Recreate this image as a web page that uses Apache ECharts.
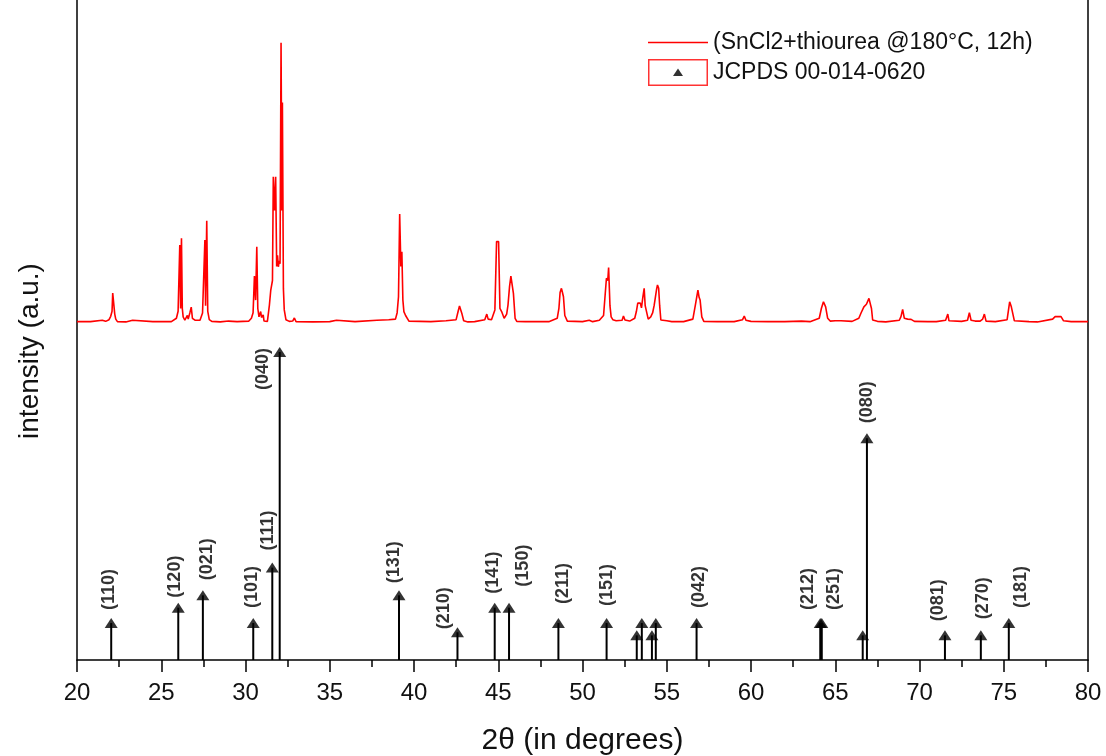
<!DOCTYPE html>
<html><head><meta charset="utf-8">
<script src="https://cdn.jsdelivr.net/npm/echarts@6/dist/echarts.min.js"></script>
<style>html,body{margin:0;padding:0;background:#fff}#c{width:1106px;height:756px}</style>
</head><body><div id="c"></div>
<script>
// ---------- data ----------
const xTickValues = [20, 25, 30, 35, 40, 45, 50, 55, 60, 65, 70, 75, 80];

// measured XRD pattern (2theta, relative intensity, 0 = baseline, 100 = strongest peak)
const xrdTheta = [20.0,20.8,20.9,21.5,21.7,21.9,22.0,22.08,22.12,22.19,22.24,22.3,22.4,22.9,23.0,23.3,23.4,24.5,25.6,25.9,26.0,26.1,26.15,26.2,26.25,26.3,26.4,26.55,26.6,26.7,26.78,26.85,27.0,27.3,27.45,27.52,27.59,27.63,27.7,27.76,27.85,28.0,28.5,29.0,29.5,30.2,30.35,30.45,30.53,30.6,30.67,30.73,30.8,30.9,30.95,31.05,31.1,31.3,31.42,31.5,31.6,31.65,31.72,31.79,31.85,31.9,31.95,32.0,32.05,32.11,32.16,32.19,32.25,32.3,32.4,32.6,32.8,32.9,33.0,34.0,35.0,35.4,35.5,36.5,37.8,38.5,38.9,39.0,39.08,39.15,39.22,39.28,39.34,39.4,39.5,39.6,39.7,41.0,41.9,42.0,42.5,42.62,42.7,42.78,42.85,42.95,43.2,43.6,44.2,44.32,44.4,44.6,44.8,44.9,45.02,45.1,45.2,45.35,45.5,45.58,45.67,45.75,45.82,45.9,46.0,46.1,46.6,47.0,48.0,48.5,48.6,48.67,48.75,48.8,48.87,48.95,49.1,50.0,50.4,50.5,50.6,51.0,51.25,51.35,51.42,51.5,51.55,51.63,51.7,51.8,52.0,52.35,52.43,52.52,52.8,53.1,53.2,53.28,53.36,53.43,53.5,53.58,53.66,53.72,53.78,53.9,54.05,54.16,54.25,54.3,54.4,54.45,54.52,54.58,54.65,55.0,55.3,56.0,56.55,56.7,56.85,56.92,56.98,57.08,57.2,58.0,58.8,58.87,59.0,59.5,59.6,59.7,60.0,61.0,62.0,63.0,63.5,64.05,64.18,64.3,64.35,64.43,64.55,64.7,65.0,65.34,66.0,66.4,66.53,66.7,66.85,66.93,67.0,67.1,67.15,67.22,67.5,68.0,68.8,68.9,69.0,69.1,69.3,69.5,69.7,70.5,71.0,71.55,71.68,71.75,72.5,72.85,72.96,73.06,73.3,73.6,73.75,73.85,73.95,74.5,75.2,75.35,75.45,75.55,75.63,76.5,77.0,77.9,78.05,78.4,78.55,79.0,80.0];
const xrdIntensity = [0.3,0.3,0.8,0.8,0.4,1.0,2.2,4,10.5,10.5,3,1.2,0.3,0.2,0.8,0.8,0.2,0.3,0.3,1.5,4,27.7,5,30.1,5,2,0.8,2.5,1.2,3.5,5.5,1.5,0.8,0.8,3.4,4,29.5,6,36.4,4,1,0.4,0.2,0.5,0.3,0.5,1.5,3.5,16.6,8,27.1,5,2,3.9,1.8,2.7,0.5,0.4,6.3,11.6,15,52.1,40,52.1,20,24,19.9,22,21,100,40,78.6,12,4.5,1,0.4,0.5,1.6,0.3,0.2,0.3,0.8,0.3,0.3,0.8,1.0,1.2,3.5,9.2,38.8,20,25.3,8,3.9,2.5,2.7,0.5,0.3,0.6,0.3,1,4,5.9,5.9,3,0.6,0.2,0.3,1.0,3.0,1.2,1,4.5,28.9,28.9,5,3.9,1.5,3,6.3,12.8,16.6,16.6,10.4,1.5,0.4,0.3,0.3,0.3,1.5,5,10.7,12.2,11,9.2,2.5,0.5,0.3,0.8,1.3,0.3,0.8,2.5,2.7,15.8,15,19.6,6,2,1,0.6,0.8,2.3,0.9,0.5,1.5,4,6.9,6.2,6.9,5.2,9,12.2,6,5.6,1.2,2,3.4,6,8.0,12,13.4,12.2,6,0.9,0.6,0.3,0.3,1.2,6.3,11.6,9,8.0,2,0.4,0.3,0.3,0.6,0.3,1,2.3,0.8,0.4,0.3,0.3,0.5,0.3,1.5,5.1,7.4,7.4,5.6,1.5,0.5,0.6,0.6,0.4,1.5,3.4,5.6,6.5,6.9,8.6,8.6,5,0.9,0.4,0.2,0.8,2.1,4.7,1.5,1.2,1.1,0.4,0.3,0.3,0.8,3.0,0.6,0.4,0.8,3.5,0.8,0.5,0.5,1.2,3.0,0.5,0.3,1,7.4,5.6,5.6,0.6,0.3,0.2,1.2,2.1,2.1,0.6,0.3,0.3];

// JCPDS 00-014-0620 reference lines (2theta, relative intensity %, hkl)
const jcpdsTheta = [22.03,26.01,27.47,30.46,31.59,32.03,39.11,42.58,44.79,45.64,48.57,51.43,53.22,53.52,54.12,54.35,56.77,64.11,64.20,66.63,66.88,71.51,73.64,75.30];
const jcpdsIntensity = [12,17,21,12,30,100,21,9,17,17,12,12,8,12,8,12,12,12,12,8,72,8,8,12];
const jcpdsHkl = ['(110)','(120)','(021)','(101)','(111)','(040)','(131)','(210)','(141)','(150)','(211)','(151)','','','','','(042)','(212)','(251)','','(080)','(081)','(270)','(181)'];

const seriesNames = ['(SnCl2+thiourea @180°C, 12h)', 'JCPDS 00-014-0620'];

// ---------- layout / style (not data) ----------
const Y_MAX = 100;           // arbitrary intensity axis
const XRD_OFFSET = 51.14;    // vertical stacking offset of the measured pattern
const XRD_SCALE = 0.4239;    // scale of measured pattern on the stacked axis
const STICK_SCALE = 0.4667;  // scale of reference sticks on the stacked axis
// screen nudges [dx, dy] for the rotated hkl labels
const labelNudge = {
  '(110)':[-2,0],'(120)':[-3,3],'(021)':[4,-2],'(101)':[-1,-2],'(111)':[-4,-4],
  '(040)':[-17,51],'(131)':[-5,1],'(210)':[-13,10],'(141)':[-2,-1],'(150)':[14,-8],
  '(211)':[5,-6],'(151)':[0,-4],'(042)':[2,-2],'(212)':[-12,0],'(251)':[12,0],
  '(080)':[0,-2],'(081)':[-7,-1],'(270)':[2,-3],'(181)':[12,-2]
};

const FONT = '"Liberation Sans", Arial, sans-serif';
const svgIcon = s => 'image://data:image/svg+xml;charset=utf-8,' + encodeURIComponent(s);
const legendLineIcon = svgIcon("<svg xmlns='http://www.w3.org/2000/svg' width='60' height='27'><line x1='0' y1='13.5' x2='60' y2='13.5' stroke='#ff0000' stroke-width='1.5'/></svg>");
const legendBoxIcon = svgIcon("<svg xmlns='http://www.w3.org/2000/svg' width='60' height='27'><rect x='0.75' y='0.75' width='58.5' height='25.5' fill='white' stroke='#ff0000' stroke-width='1.5'/><polygon points='30,9.5 35,17 25,17' fill='black'/></svg>");

const xrdData = xrdTheta.map((t, i) => [t, XRD_OFFSET + xrdIntensity[i] * XRD_SCALE]);
const stickData = jcpdsTheta.map((t, i) => [t, jcpdsIntensity[i] * STICK_SCALE]);
const markerData = jcpdsTheta.map((t, i) => {
  const hkl = jcpdsHkl[i];
  const item = { name: hkl, value: [t, jcpdsIntensity[i] * STICK_SCALE] };
  if (hkl) {
    const n = labelNudge[hkl] || [0, 0];
    // label offset is applied in the rotated (90°) frame of the text
    item.label = { show: true, offset: [-n[1], n[0]] };
  } else item.label = { show: false };
  return item;
});

const chart = echarts.init(document.getElementById('c'), null, { renderer: 'canvas' });
chart.setOption({
  animation: false,
  backgroundColor: '#ffffff',
  textStyle: { fontFamily: FONT },
  grid: { left: 77, right: 18, top: 0, bottom: 96, containLabel: false, outerBoundsMode: 'none' },
  legend: {
    orient: 'vertical', left: 648, top: 29, padding: 0,
    itemWidth: 60, itemHeight: 27, itemGap: 3,
    textStyle: { fontSize: 23, color: '#111', fontFamily: FONT },
    data: [
      { name: seriesNames[0], icon: legendLineIcon },
      { name: seriesNames[1], icon: legendBoxIcon }
    ],
    selectedMode: false
  },
  xAxis: {
    type: 'value',
    min: xTickValues[0], max: xTickValues[xTickValues.length - 1],
    interval: xTickValues[1] - xTickValues[0],
    name: '2θ (in degrees)', nameLocation: 'middle', nameGap: 66,
    nameTextStyle: { fontSize: 30, color: '#111', fontFamily: FONT },
    axisLine: { show: true, onZero: false, lineStyle: { color: '#000', width: 1.5 } },
    axisTick: { show: true, inside: false, length: 12, lineStyle: { color: '#000', width: 1.5 } },
    minorTick: { show: true, splitNumber: 2, length: 7, lineStyle: { color: '#000', width: 1.5 } },
    axisLabel: { fontSize: 24, color: '#111', margin: 21, fontFamily: FONT },
    splitLine: { show: false }, minorSplitLine: { show: false }
  },
  yAxis: [{
    type: 'value', min: 0, max: Y_MAX, position: 'left',
    name: 'intensity (a.u.)', nameLocation: 'middle', nameGap: 33, nameRotate: 90,
    nameTextStyle: { fontSize: 28, color: '#111', fontFamily: FONT, padding: [0, 42, 0, 0] },
    axisLine: { show: true, lineStyle: { color: '#000', width: 1.5 } },
    axisTick: { show: false }, axisLabel: { show: false }, splitLine: { show: false }
  }, {
    type: 'value', min: 0, max: Y_MAX, position: 'right',
    axisLine: { show: true, lineStyle: { color: '#000', width: 1.5 } },
    axisTick: { show: false }, axisLabel: { show: false }, splitLine: { show: false }
  }],
  series: [{
    name: seriesNames[0], type: 'line', data: xrdData,
    symbol: 'none', showSymbol: false,
    lineStyle: { color: '#ff0000', width: 1.6 }, itemStyle: { color: '#ff0000' },
    z: 3
  }, {
    name: 'JCPDS sticks', type: 'bar', data: stickData,
    barWidth: 2, itemStyle: { color: '#000' }, z: 2
  }, {
    name: seriesNames[1], type: 'scatter', data: markerData,
    symbol: 'triangle', symbolSize: [13, 10],
    itemStyle: { color: '#000' },
    label: {
      show: true, position: 'top', distance: 8, rotate: 90,
      align: 'left', verticalAlign: 'middle',
      formatter: '{b}', fontSize: 18, fontWeight: 'bold', color: '#000', fontFamily: FONT
    },
    z: 4
  }]
});
</script></body></html>
